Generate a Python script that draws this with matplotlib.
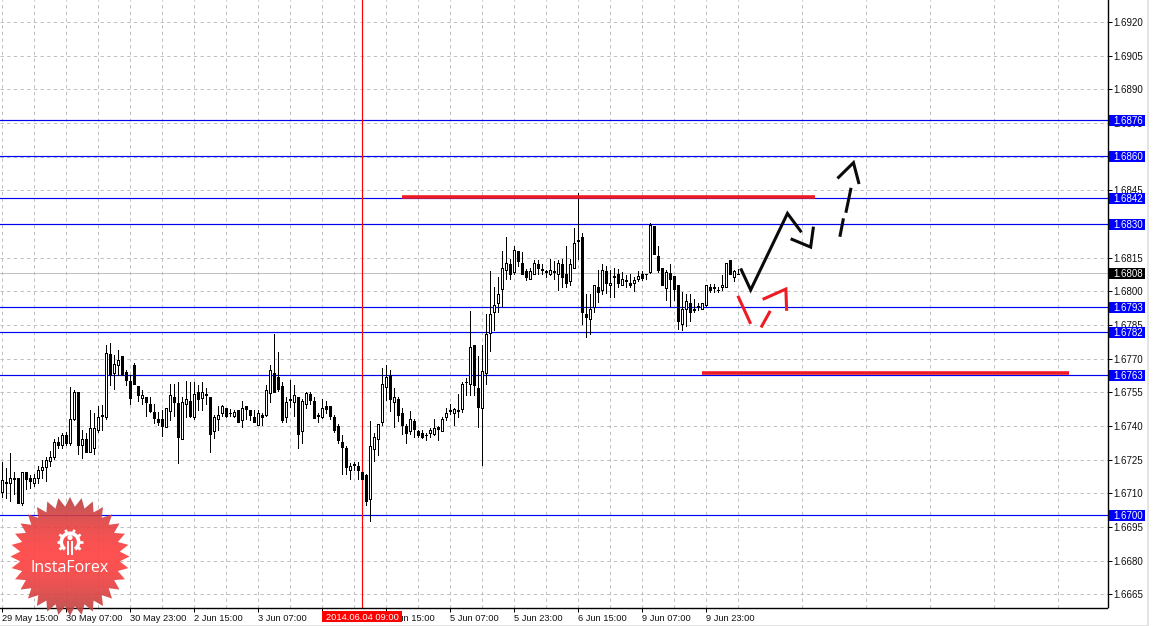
import numpy as np
import matplotlib
matplotlib.use("Agg")
import matplotlib.pyplot as plt
from matplotlib.patches import Rectangle, Polygon, Wedge, Circle

# Hourly candles, prices as points above 1.67000 (1 point = 0.00001)
BASE = 1.67
highs = [240,211,281,196,166,197,197,181,185,221,248,263,289,340,352,367,374,575,560,551,381,367,471,456,488,493,760,768,716,738,711,649,626,681,578,560,530,530,500,463,471,478,589,589,597,530,601,597,597,582,597,567,527,448,488,493,480,474,471,471,512,487,471,471,471,456,582,671,812,730,597,530,604,582,530,520,552,552,530,456,520,511,488,448,407,359,310,236,240,240,197,188,422,367,407,659,671,649,567,527,478,408,466,429,384,381,370,389,429,399,438,478,500,482,542,597,612,912,760,711,760,897,1091,1017,1064,1179,1243,1146,1201,1179,1176,1101,1106,1139,1139,1121,1097,1145,1136,1139,1142,1201,1142,1280,1440,1260,990,990,1030,1094,1121,1112,1097,1106,1101,1087,1072,1079,1064,1090,1091,1079,1306,1290,1201,1106,1097,1121,1066,1030,998,990,990,965,949,950,1030,1032,1032,1017,1072,1128,1139,1097,1101]
lows = [84,77,67,99,58,49,120,122,132,147,166,156,221,255,300,300,315,315,426,275,257,283,285,275,374,381,433,582,563,626,626,582,497,586,512,500,444,463,414,404,355,396,426,444,236,340,438,438,429,471,471,497,285,347,381,444,438,444,438,419,396,429,426,419,405,405,444,508,552,557,419,419,485,444,300,325,478,497,435,419,436,456,433,374,322,188,188,163,203,163,165,49,-22,245,270,404,515,468,396,423,364,325,364,349,349,346,337,349,358,337,379,426,453,404,438,463,537,537,537,396,227,586,735,827,908,934,1057,1057,1076,1112,1079,1052,1054,1076,1079,1076,1064,1072,1057,1005,1017,1017,1027,1106,1145,854,797,809,908,953,990,993,975,975,1017,1029,1017,1017,1002,1047,1049,1055,1082,1165,1087,1027,960,934,963,834,827,846,868,908,916,919,934,998,998,998,1005,1017,1079,1047,1076]
opens = [107,147,147,165,166,58,197,166,147,166,203,218,245,260,327,316,358,325,429,551,316,340,285,300,381,444,438,720,637,670,711,641,601,670,578,524,530,500,462,430,430,396,468,530,503,340,497,511,438,551,524,539,527,379,429,459,480,456,444,471,426,487,471,438,405,447,447,548,638,616,578,438,515,508,530,379,500,542,511,445,438,488,488,438,401,328,301,206,227,221,197,180,76,298,340,419,575,629,509,518,460,399,379,422,379,367,358,367,364,396,379,438,466,459,468,477,594,589,760,567,478,637,815,908,949,1009,1097,1121,1085,1179,1128,1090,1055,1079,1121,1096,1087,1079,1087,1076,1121,1079,1047,1106,1225,1240,898,877,928,1020,1008,1090,1029,1064,1079,1029,1047,1039,1038,1055,1079,1076,1087,1290,1159,1106,1015,1081,1066,1030,856,919,950,917,931,919,937,1018,1014,1005,1017,1017,1139,1064,1076]
closes = [159,150,166,168,58,197,165,156,166,206,218,248,260,327,316,358,325,429,551,316,340,283,389,389,438,447,726,625,678,696,626,604,524,586,539,540,508,466,435,419,402,478,540,506,349,509,518,444,542,518,551,542,364,438,447,488,445,459,462,419,480,474,447,419,460,438,560,649,552,563,426,509,518,540,364,511,549,515,435,448,478,477,444,384,337,307,218,221,230,203,165,65,310,349,407,589,616,518,527,447,405,367,429,387,358,349,361,381,389,387,430,460,469,477,471,589,597,750,582,485,646,809,898,937,990,1106,1128,1079,1186,1136,1079,1064,1090,1128,1106,1098,1090,1097,1090,1128,1064,1038,1121,1217,1228,908,886,919,1030,996,1097,1038,1039,1067,1038,1057,1049,1029,1049,1066,1058,1079,1297,1168,1094,1029,1088,1055,1012,868,919,959,908,920,934,949,1030,1006,1017,1008,1030,1128,1079,1090,1079]

first_label_bars = [0, 16, 32, 48, 64, 80, 96, 112, 128, 144, 160, 176]
time_labels = ["29 May 15:00", "30 May 07:00", "30 May 23:00", "2 Jun 15:00", "3 Jun 07:00",
               "3 Jun 23:00", "4 Jun 15:00", "5 Jun 07:00", "5 Jun 23:00", "6 Jun 15:00",
               "9 Jun 07:00", "9 Jun 23:00"]
price_ticks = [1.6665, 1.6680, 1.6695, 1.6710, 1.6725, 1.6740, 1.6755, 1.6770, 1.6785, 1.6800,
               1.6815, 1.6830, 1.6845, 1.6860, 1.6875, 1.6890, 1.6905, 1.6920]
level_prices = [1.68763, 1.68601, 1.68414, 1.68298, 1.67929, 1.67817, 1.67626, 1.67002]
level_labels = ["1.6876", "1.6860", "1.6842", "1.6830", "1.6793", "1.6782", "1.6763", "1.6700"]
last_price = 1.6808
cursor_bar = 90
cursor_label = "2014.06.04 09:00"

# Hand-drawn annotations: (bar, points above 1.67000)
black_paths = [
    ([184.5, 187.0, 196.2, 199.7], [1102, 1006, 1347, 1263]),
    ([197.0, 202.0, 202.7], [1234, 1197, 1288]),
    ([209.3, 210.2], [1243, 1325]),
    ([210.8, 212.1], [1350, 1461]),
    ([208.7, 212.7, 214.1], [1503, 1573, 1478]),
]
red_paths = [
    ([183.8, 187.0], [980, 855]),
    ([189.6, 191.9], [839, 913]),
    ([190.0, 195.8, 196.0], [964, 1010, 913]),
]
red_levels = [([99.8, 203.1], 1419), ([174.8, 266.6], 634)]

plt.rcParams["font.family"] = ["Liberation Sans", "DejaVu Sans"]
plt.rcParams["lines.scale_dashes"] = False

W, H = 1158, 626
AX_R, AX_B = 1107.5, 607.5
PX = 0.72
BLUE = "#0000F0"
FS = 6.7
FS_P = 7.0
fig = plt.figure(figsize=(W / 100, H / 100), dpi=100, facecolor="white")
ax = fig.add_axes([0, (H - AX_B) / H, AX_R / W, AX_B / H])
ax.set_facecolor("white")
bar_of_px = lambda p: (p - 2.3) / 4
price_of_px = lambda y: 1.6665 + (594.3 - y) / 22444
ax.set_xlim(bar_of_px(0), bar_of_px(AX_R))
ax.set_ylim(price_of_px(AX_B), price_of_px(0))

for s in ("left", "top"):
    ax.spines[s].set_visible(False)
for s in ("right", "bottom"):
    ax.spines[s].set_linewidth(1.0)
    ax.spines[s].set_color("black")

ax.yaxis.tick_right()
ax.set_yticks(price_ticks)
ax.set_yticklabels([f"{v:.4f}" for v in price_ticks], fontsize=FS_P, color="#101010")
ax.tick_params(axis="y", which="major", length=3, width=PX, pad=1.0)
ax.set_xticks(first_label_bars)
ax.set_xticklabels(time_labels, fontsize=FS, ha="left", color="#101010")
ax.set_xticks(np.arange(8, 280, 16), minor=True)
ax.tick_params(axis="x", which="major", length=3, width=PX, pad=2.0)
ax.tick_params(axis="x", which="minor", length=0)
ax.grid(which="both", color="#C0C0C0", lw=PX, ls=(0, (2.4, 2.4)), zorder=0)
ax.set_axisbelow(True)

x = np.arange(len(highs))
hi = BASE + np.array(highs) / 1e5
lo = BASE + np.array(lows) / 1e5
op = BASE + np.array(opens) / 1e5
cl = BASE + np.array(closes) / 1e5
ax.axhline(last_price, color="#C0C0C0", lw=PX, zorder=1)
for v in level_prices:
    ax.axhline(v, color=BLUE, lw=0.85, zorder=1)
ax.axvline(cursor_bar, color="#FF0000", lw=0.85, zorder=1.2)

ax.vlines(x, lo, hi, color="black", lw=PX, zorder=2, antialiased=False)
up = cl >= op
ax.bar(x[up], (cl - op)[up], bottom=op[up], width=0.5, facecolor="white", edgecolor="black", lw=PX, zorder=3, antialiased=False)
ax.bar(x[~up], (cl - op)[~up], bottom=op[~up], width=0.5, facecolor="black", edgecolor="black", lw=PX, zorder=3, antialiased=False)

# The trend strokes were read in the bar grid before the half-pixel shift; keep them in place
for xs, ys in black_paths:
    ax.plot(np.array(xs) + 0.09, BASE + np.array(ys) / 1e5, color="#0A0A0A", lw=2.2, solid_capstyle="butt", solid_joinstyle="miter", zorder=4)
for xs, ys in red_paths:
    ax.plot(np.array(xs) + 0.09, BASE + np.array(ys) / 1e5, color="#ED1C24", lw=2.2, solid_capstyle="butt", solid_joinstyle="miter", zorder=4)
for xs, y in red_levels:
    ax.plot(np.array(xs) + 0.09, [BASE + y / 1e5] * 2, color="#ED1C24", lw=2.6, solid_capstyle="butt", zorder=4)

# Overlay in figure pixels: price tags, cursor tag, frame strip and watermark
ov = fig.add_axes([0, 0, 1, 1], zorder=5)
ov.set_xlim(0, W)
ov.set_ylim(H, 0)
ov.axis("off")
ov.patch.set_alpha(0)
px_of_price = lambda p: 594.3 - (p - 1.6665) * 22444
TAGX0, TAGX1 = 1109, 1145
for v, t in zip(level_prices, level_labels):
    yy = px_of_price(v)
    ov.add_patch(Rectangle((TAGX0, yy - 5.5), TAGX1 - TAGX0, 11, fc="#0000FF", ec="none", zorder=2))
    ov.text(1113.3, yy, t, color="white", fontsize=FS_P, va="center_baseline", ha="left", zorder=3)
yy = px_of_price(last_price)
ov.add_patch(Rectangle((TAGX0, yy - 5.5), TAGX1 - TAGX0, 11, fc="black", ec="none", zorder=2))
ov.text(1113.3, yy, f"{last_price:.4f}", color="white", fontsize=FS_P, va="center_baseline", ha="left", zorder=3)

ov.add_patch(Rectangle((321.7, 611), 80, 11, fc="#FF0000", ec="none", zorder=2))
ov.text(362, 616.5, cursor_label, color="white", fontsize=FS, ha="center", va="center_baseline", zorder=3)
ov.add_patch(Rectangle((1147, 0), 2, H, fc="#E4E4E4", ec="none"))
ov.add_patch(Rectangle((0, 624.5), 1149, 1.5, fc="#E4E4E4", ec="none"))

# Watermark badge
cx, cy, r_out, r_in, n = 70, 556.5, 59.5, 50, 32
ang = np.linspace(0, 2 * np.pi, 2 * n, endpoint=False) - np.pi / 2
rad = np.where(np.arange(2 * n) % 2 == 0, r_out, r_in)
star = Polygon(np.c_[cx + rad * np.cos(ang), cy + rad * np.sin(ang)], closed=True, transform=ov.transData, fc="none", ec="none")
ov.add_patch(star)
yy_g, xx_g = np.mgrid[-1:1:120j, -1:1:120j]
t = np.clip(np.abs(yy_g) ** 1.6, 0, 1)
rgba = np.zeros((120, 120, 4))
rgba[..., 0] = 1.0 - 0.30 * t
rgba[..., 1] = 0.24 + 0.02 * t
rgba[..., 2] = 0.24 + 0.02 * t
rgba[..., 3] = 0.90
im = ov.imshow(rgba, extent=(cx - 60, cx + 60, cy + 60, cy - 60), zorder=6, aspect="auto", interpolation="bilinear")
im.set_clip_path(star)
ov.set_xlim(0, W)
ov.set_ylim(H, 0)

gx, gy = 70, 542
ov.add_patch(Wedge((gx, gy), 10.5, 125, 55, width=3.6, fc="white", ec="none", zorder=7))
for a in np.deg2rad([145, 180, 215, 250, 290, 325, 0, 35]):
    ca, sa = np.cos(a), np.sin(a)
    ov.plot([gx + 9 * ca, gx + 13 * ca], [gy + 9 * sa, gy + 13 * sa], color="white", lw=1.9, solid_capstyle="butt", zorder=7)
ov.add_patch(Circle((gx, gy - 4.5), 2.6, fc="white", ec="none", zorder=7))
ov.add_patch(Rectangle((gx - 3.4, gy - 1), 2.6, 14, fc="white", ec="none", zorder=7))
ov.add_patch(Rectangle((gx + 0.8, gy - 1), 2.6, 14, fc="white", ec="none", zorder=7))
ov.text(cx, 568.5, "InstaForex", color="white", fontsize=11.5, family="Open Sans", ha="center", va="center", zorder=8)

fig.savefig("out.png", dpi=100)
